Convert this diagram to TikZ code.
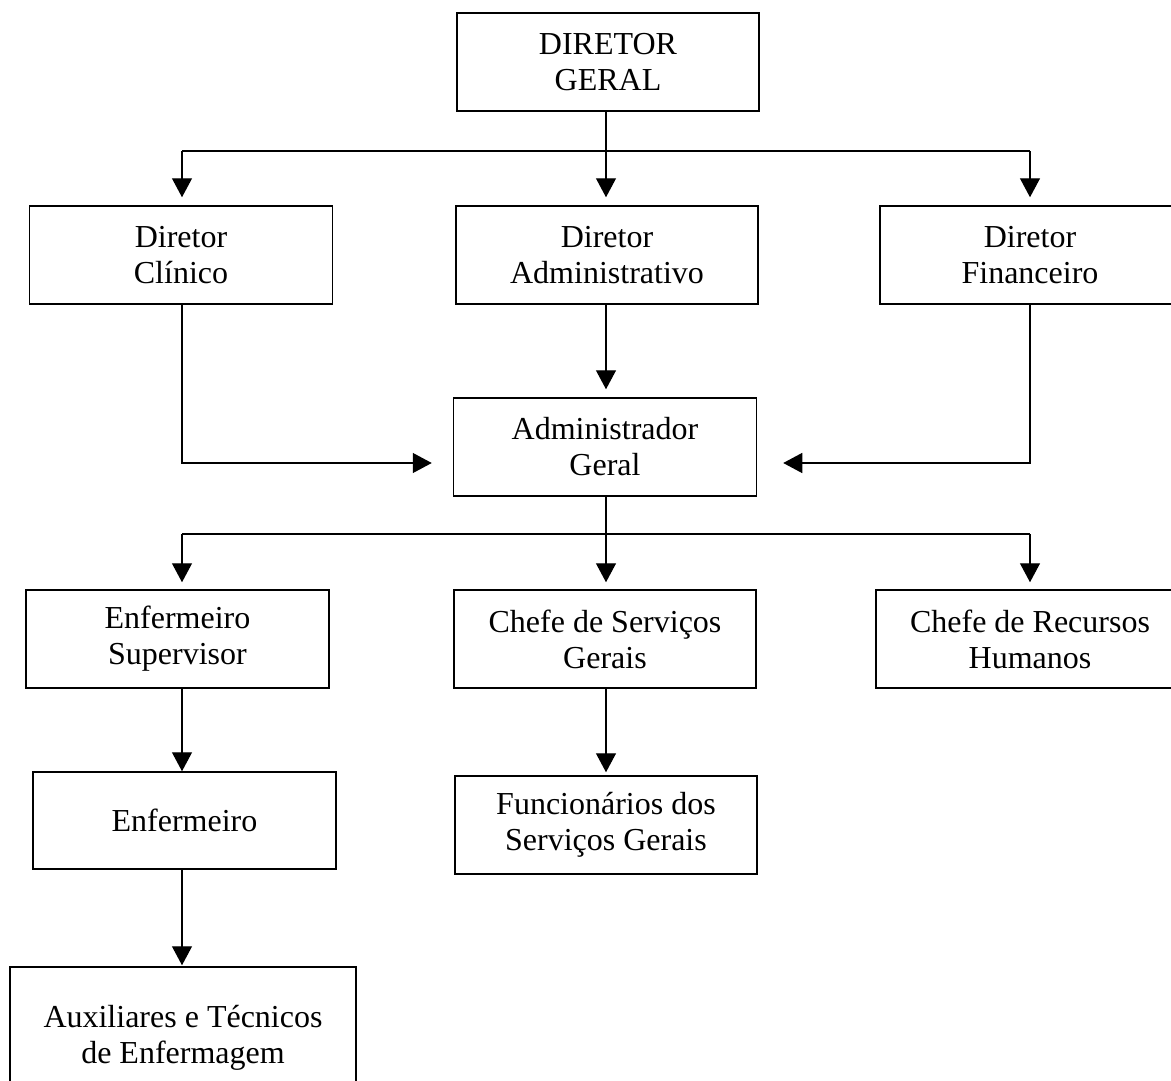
\documentclass[tikz,border=0pt]{standalone}
\usepackage{fontspec}
\setmainfont{Liberation Serif}
\usetikzlibrary{arrows.meta}
\begin{document}
\begin{tikzpicture}[x=1pt,y=-1pt,
  orgbox/.style={draw=black, line width=1.5pt, rectangle, inner sep=0pt,
    minimum width=302pt, minimum height=98pt, align=center,
    font=\fontsize{32}{36}\selectfont},
  conn/.style={draw=black, line width=1.3pt},
  arr/.style={conn, -{Triangle[length=19pt,width=20pt]}}]
\useasboundingbox[fill=white] (0,0) rectangle (1171,1081);
% nodes
\node[orgbox] (dg) at (608,62) {DIRETOR\\GERAL};
\node[orgbox, minimum width=303pt] (dc) at (181,255) {Diretor\\Clínico};
\node[orgbox] (da) at (607,255) {Diretor\\Administrativo};
\node[orgbox, minimum width=300pt] (df) at (1030,255) {Diretor\\Financeiro};
\node[orgbox, minimum width=303pt] (ag) at (605,447) {Administrador\\Geral};
\node[orgbox, minimum width=303pt] (es) at (177.5,639) {Enfermeiro\\Supervisor};
\node[orgbox] (cs) at (605,639) {Chefe de Serviços\\Gerais};
\node[orgbox, minimum width=308pt] (rh) at (1030,639) {Chefe de Recursos\\Humanos};
\node[orgbox, minimum width=303pt, minimum height=97pt] (enf) at (184.5,820.5) {Enfermeiro};
\node[orgbox] (func) at (606,825) {Funcionários dos\\Serviços Gerais};
\node[orgbox, minimum width=346pt, minimum height=142pt] (aux) at (183,1038) {Auxiliares e Técnicos\\de Enfermagem};
% bus coordinates
\coordinate (busA) at (606,151);
\coordinate (busB) at (606,534);
\coordinate (midY) at (606,463);
\coordinate (colL) at (182,0);
% top bus
\draw[conn] (dg.south -| busA) -- (busA);
\draw[conn] (colL |- busA) -- (df.north |- busA);
\draw[arr, shorten >=8pt] (colL |- busA) -- (colL |- dc.north);
\draw[arr, shorten >=8pt] (busA) -- (busA |- da.north);
\draw[arr, shorten >=8pt] (df.north |- busA) -- (df.north);
% to administrador geral
\draw[arr, shorten >=8pt] (busA |- da.south) -- (busA |- ag.north);
\draw[arr, shorten >=21pt] (colL |- dc.south) |- (ag.west |- midY);
\draw[arr, shorten >=26pt] (df.south) |- (ag.east |- midY);
% second bus
\draw[conn] (busA |- ag.south) -- (busB);
\draw[conn] (colL |- busB) -- (rh.north |- busB);
\draw[arr, shorten >=7pt] (colL |- busB) -- (colL |- es.north);
\draw[arr, shorten >=7pt] (busB) -- (busB |- cs.north);
\draw[arr, shorten >=7pt] (rh.north |- busB) -- (rh.north);
% lower chains
\draw[arr] (colL |- es.south) -- (colL |- enf.north);
\draw[arr, shorten >=1pt] (colL |- enf.south) -- (colL |- aux.north);
\draw[arr, shorten >=3pt] (busB |- cs.south) -- (busB |- func.north);
\end{tikzpicture}
\end{document}
